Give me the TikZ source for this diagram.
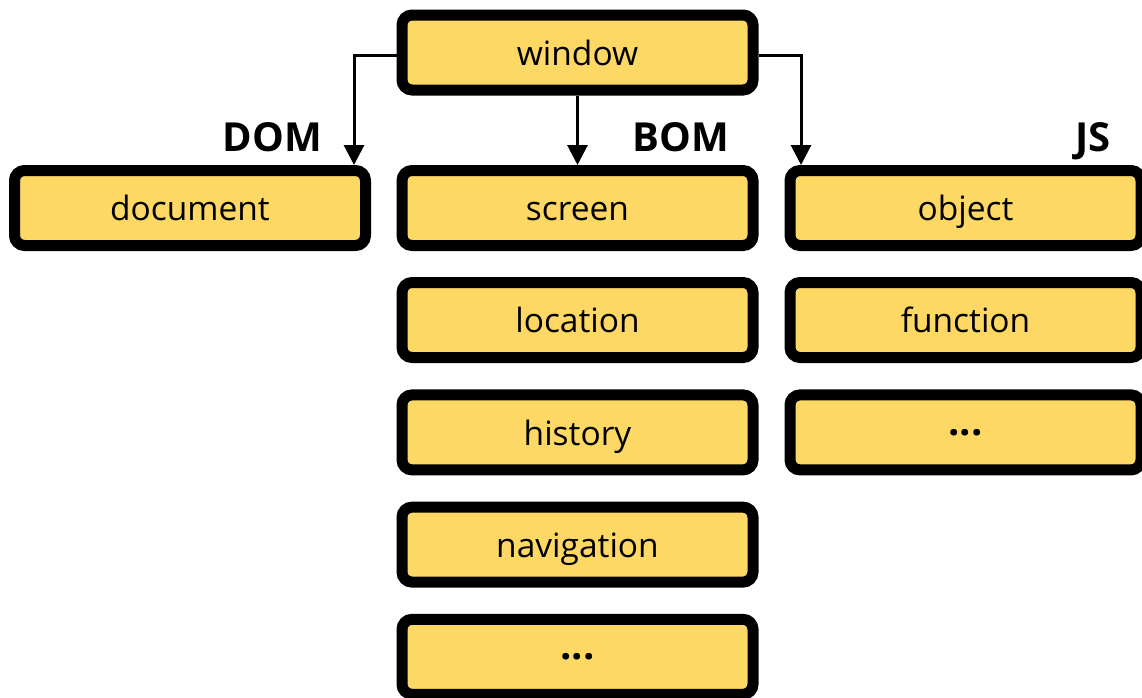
\documentclass[tikz,border=0pt]{standalone}
\usepackage{fontspec}
\setmainfont{Open Sans}
\usetikzlibrary{arrows.meta}
\definecolor{boxfill}{RGB}{253,216,100}
\tikzset{
  item/.style={draw=black, fill=boxfill, line width=11pt, rounded corners=10pt,
    minimum width=351pt, minimum height=75pt, inner sep=0pt,
    font=\fontsize{33.5}{40}\selectfont, text height=25.5pt, text depth=0pt},
  dots/.style={item, text height=6pt, font=\fontsize{40}{46}\selectfont\bfseries},
  grp/.style={font=\fontsize{40}{48}\selectfont\bfseries, inner sep=0pt, anchor=base east},
  link/.style={line width=3pt, -{Triangle[width=20pt,length=20pt]}}
}
\begin{document}
\begin{tikzpicture}[x=1pt,y=-1pt]
\useasboundingbox (0,0) rectangle (1142,697);
\node[item] (window) at (577.5,52.5) {window};
\node[item] (document) at (190,208) {document};
\node[item] (screen) at (577.5,208) {screen};
\node[item] (location) at (577.5,320) {location};
\node[item] (history) at (577.5,432.4) {history};
\node[item] (navigation) at (577.5,544.6) {navigation};
\node[dots] (bomdots) at (577.5,656.8) {...};
\node[item] (object) at (965.5,208) {object};
\node[item] (function) at (965.5,320) {function};
\node[dots] (jsdots) at (965.5,432.4) {...};
\node[grp] (dom) at (322,151.5) {DOM};
\node[grp] (bom) at (729,151.5) {BOM};
\node[grp] (js) at (1111,151.5) {JS};
\coordinate (lc) at (354,55);
\coordinate (rc) at (801,55);
\draw[link] (lc -| window.west) -- (lc) -- (lc |- document.north);
\draw[link] (window.south) -- (screen.north);
\draw[link] (rc -| window.east) -- (rc) -- (rc |- object.north);
\end{tikzpicture}
\end{document}
